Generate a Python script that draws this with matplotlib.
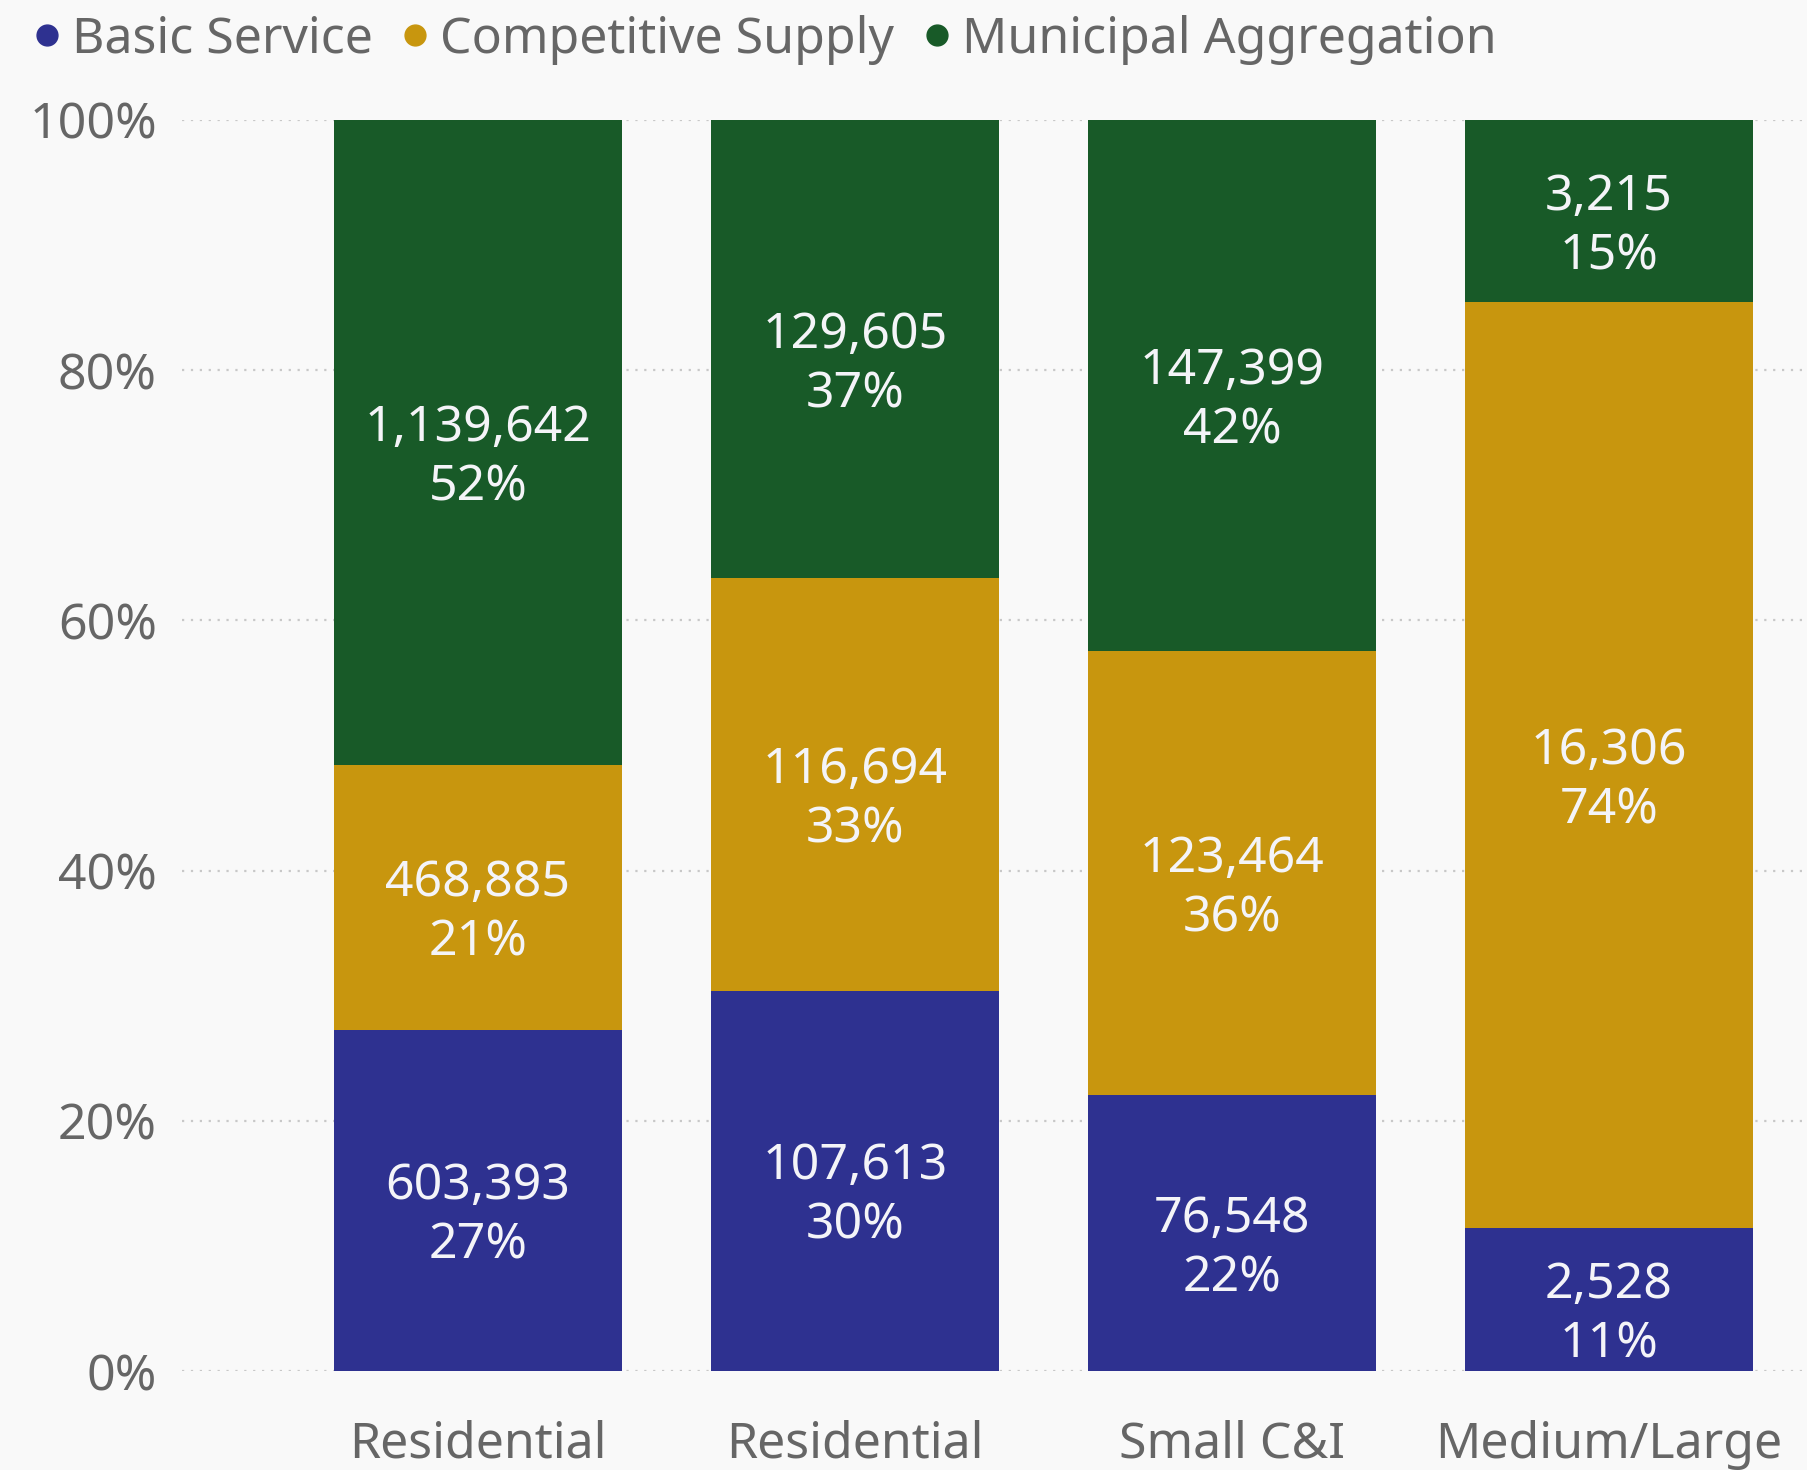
import matplotlib
matplotlib.use("Agg")
import matplotlib.pyplot as plt
from matplotlib.lines import Line2D
import numpy as np

plt.rcParams["font.family"] = ["Noto Sans", "DejaVu Sans"]

categories = ["Residential", "Residential", "Small C&I", "Medium/Large"]
series_names = ["Basic Service", "Competitive Supply", "Municipal Aggregation"]
basic_service = [603393, 107613, 76548, 2528]
competitive_supply = [468885, 116694, 123464, 16306]
municipal_aggregation = [1139642, 129605, 147399, 3215]
colors = ["#2e3190", "#c8960e", "#185a28"]
pct_ticks = [0, 20, 40, 60, 80, 100]

series = [basic_service, competitive_supply, municipal_aggregation]
counts = np.array(series, dtype=float)
totals = counts.sum(axis=0)
shares = counts / totals

bg = "#f9f9f9"
fig = plt.figure(figsize=(18.07, 14.70), dpi=100, facecolor=bg)
ax = fig.add_axes([0.1007, 0.0673, 0.8993, 0.8511], facecolor=bg)

x = np.arange(len(categories))
width = 0.764

for v in pct_ticks:
    ax.axhline(v / 100, color="#c8c8c8", linestyle=(0, (1, 3)), linewidth=1.6, zorder=0)

bottom = np.zeros(len(categories))
for name, vals, share, col in zip(series_names, series, shares, colors):
    ax.bar(x, share, width, bottom=bottom, color=col, label=name, zorder=2)
    for i, (v, s) in enumerate(zip(vals, share)):
        ax.annotate(f"{v:,}\n{s * 100:.0f}%", (x[i], bottom[i] + s / 2),
                    xytext=(0, -11), textcoords="offset points",
                    ha="center", va="center", color="#f4f4f8", fontsize=36,
                    linespacing=1.25, zorder=3)
    bottom += share

ax.set_ylim(0, 1)
ax.set_xlim(-0.785, 3.525)
ax.set_yticks([v / 100 for v in pct_ticks])
ax.set_yticklabels([f"{v}%" for v in pct_ticks])
ax.set_xticks(x)
ax.set_xticklabels(categories)
ax.tick_params(axis="y", length=0, pad=18, labelsize=36, labelcolor="#666666")
ax.tick_params(axis="x", length=0, pad=35, labelsize=36, labelcolor="#666666")
for sp in ax.spines.values():
    sp.set_visible(False)

handles = [Line2D([], [], marker="o", linestyle="none", markersize=15,
                  markerfacecolor=c, markeredgecolor=c) for c in colors]
fig.legend(handles, series_names, loc="center left", bbox_to_anchor=(0.019, 0.973),
           ncol=3, frameon=False, fontsize=36, handlelength=0.5, handletextpad=0.25,
           columnspacing=0.6, borderaxespad=0, borderpad=0, labelcolor="#666666")

fig.savefig("out.png", dpi=100, facecolor=bg)
